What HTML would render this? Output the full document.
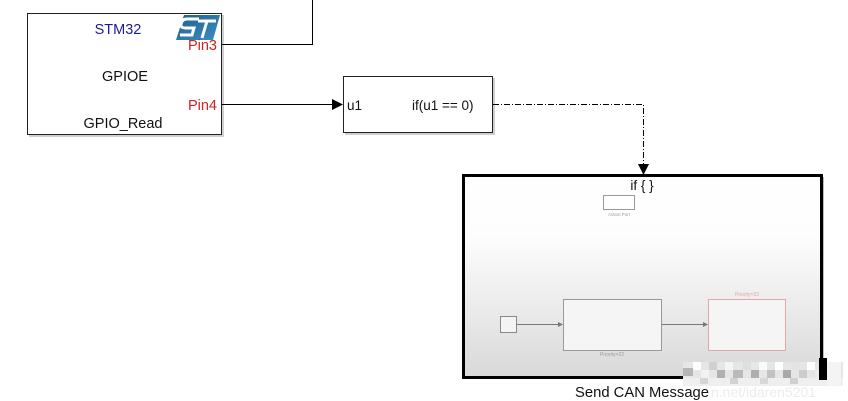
<!DOCTYPE html>
<html><head><meta charset="utf-8"><style>
html,body{margin:0;padding:0;background:#fff;}
svg{display:block;}
text{font-family:"Liberation Sans",Arial,sans-serif;}
</style></head><body>
<svg width="848" height="401" viewBox="0 0 848 401" xmlns="http://www.w3.org/2000/svg">
<defs>
<linearGradient id="g" x1="0" y1="0" x2="0" y2="1">
<stop offset="0" stop-color="#ffffff"/>
<stop offset="0.3" stop-color="#fdfdfd"/>
<stop offset="1" stop-color="#d9d9d9"/>
</linearGradient>
<linearGradient id="st" x1="0" y1="0" x2="1" y2="1">
<stop offset="0" stop-color="#1d5f8e"/>
<stop offset="1" stop-color="#3d8fc2"/>
</linearGradient>
</defs>

<!-- GPIO block -->
<rect x="29" y="15" width="195" height="122" fill="#cfcfcf"/>
<rect x="27.5" y="13.5" width="194" height="121" fill="#fff" stroke="#222" stroke-width="1"/>
<!-- ST logo -->
<polygon points="184,15 220,15 213,40 176,40" fill="url(#st)"/>
<path d="M199,19 L187,19 Q182,19 181,24 Q180,28 186,28 L194,28 L192,35 L180,35" fill="none" stroke="#fff" stroke-width="3"/>
<path d="M198,21 L216,21 M207,21 L202,38" fill="none" stroke="#fff" stroke-width="3"/>
<text x="118" y="34" font-size="14.5" fill="#1a1aa0" text-anchor="middle">STM32</text>
<text x="125" y="81" font-size="14.5" fill="#111" text-anchor="middle">GPIOE</text>
<text x="123" y="128" font-size="14.5" fill="#111" text-anchor="middle">GPIO_Read</text>
<text x="217" y="50" font-size="14.5" fill="#d02020" text-anchor="end">Pin3</text>
<text x="217" y="110" font-size="14.5" fill="#d02020" text-anchor="end">Pin4</text>

<!-- Pin3 line -->
<polyline points="222,44.5 312.5,44.5 312.5,0" fill="none" stroke="#000" stroke-width="1"/>
<!-- Pin4 line -->
<line x1="222" y1="104.5" x2="334" y2="104.5" stroke="#000" stroke-width="1"/>
<polygon points="332,99 343,104.5 332,110" fill="#000"/>

<!-- If block -->
<rect x="345" y="78" width="150" height="57" fill="#cfcfcf"/>
<rect x="343.5" y="76.5" width="149" height="56" fill="#fff" stroke="#222" stroke-width="1"/>
<text x="347" y="110" font-size="13.5" fill="#111">u1</text>
<text x="412" y="110" font-size="13.5" fill="#111">if(u1 == 0)</text>

<!-- dash-dot line -->
<polyline points="493,104.5 643.5,104.5 643.5,165" fill="none" stroke="#000" stroke-width="1" stroke-dasharray="6,2,1,2"/>
<polygon points="638,164 649,164 643.5,175" fill="#000"/>

<!-- Subsystem -->
<rect x="465" y="177" width="359" height="202" fill="#bdbdbd"/>
<rect x="463.5" y="175.5" width="358" height="202" fill="url(#g)" stroke="#000" stroke-width="3"/>
<text x="642" y="190" font-size="13.5" fill="#111" text-anchor="middle">if { }</text>
<rect x="603.5" y="195.5" width="31" height="14" fill="#fff" stroke="#999" stroke-width="1"/>
<text x="619" y="216" font-size="4.5" fill="#999" text-anchor="middle">Action Port</text>

<rect x="500.5" y="316.5" width="16" height="16" fill="#f4f4f4" stroke="#888" stroke-width="1"/>
<line x1="517" y1="324.5" x2="559" y2="324.5" stroke="#777" stroke-width="1"/>
<polygon points="558,322 563,324.5 558,327" fill="#777"/>
<rect x="563.5" y="299.5" width="98" height="51" fill="#f5f5f5" stroke="#999" stroke-width="1"/>
<text x="612" y="356" font-size="5" fill="#999" text-anchor="middle">Priority=22</text>
<line x1="662" y1="324.5" x2="704" y2="324.5" stroke="#777" stroke-width="1"/>
<polygon points="703,322 708,324.5 703,327" fill="#777"/>
<rect x="708.5" y="299.5" width="77" height="51" fill="#f5f5f5" stroke="#e0a8a8" stroke-width="1"/>
<text x="747" y="296" font-size="5" fill="#e0a8a8" text-anchor="middle">Priority=23</text>

<!-- mosaic -->
<g>
<rect x="683" y="362" width="160" height="24" fill="#e6e6e6"/>
<rect x="683" y="368" width="10" height="8" fill="#b5b5b5"/>
<rect x="693" y="362" width="8" height="8" fill="#fff"/>
<rect x="701" y="370" width="8" height="8" fill="#f2f2f2"/>
<rect x="709" y="362" width="8" height="8" fill="#d0d0d0"/>
<rect x="717" y="370" width="8" height="8" fill="#b0b0b0"/>
<rect x="725" y="362" width="8" height="8" fill="#f4f4f4"/>
<rect x="733" y="370" width="10" height="8" fill="#bababa"/>
<rect x="743" y="362" width="8" height="8" fill="#dedede"/>
<rect x="751" y="370" width="8" height="8" fill="#aeaeae"/>
<rect x="759" y="362" width="8" height="8" fill="#fafafa"/>
<rect x="767" y="370" width="8" height="8" fill="#c2c2c2"/>
<rect x="775" y="362" width="8" height="8" fill="#fff"/>
<rect x="783" y="370" width="8" height="8" fill="#a8a8a8"/>
<rect x="791" y="362" width="8" height="8" fill="#e4e4e4"/>
<rect x="799" y="370" width="8" height="8" fill="#cccccc"/>
<rect x="807" y="362" width="8" height="8" fill="#fff"/>
<rect x="815" y="370" width="5" height="8" fill="#ececec"/>
<rect x="683" y="378" width="160" height="8" fill="#efefef"/>
<rect x="700" y="378" width="8" height="6" fill="#d6d6d6"/>
<rect x="730" y="378" width="8" height="6" fill="#d2d2d2"/>
<rect x="760" y="378" width="8" height="6" fill="#d8d8d8"/>
<rect x="790" y="378" width="8" height="6" fill="#d0d0d0"/>
<rect x="827" y="362" width="14" height="24" fill="#f4f4f4"/>
</g>
<rect x="819" y="358" width="8" height="22" fill="#000"/>

<text x="575" y="397" font-size="14.5" fill="#111" textLength="134" lengthAdjust="spacingAndGlyphs">Send CAN Message</text>
<text x="711" y="397" font-size="14" fill="#ececec">n.net/idaren5201</text>
</svg>
</body></html>
